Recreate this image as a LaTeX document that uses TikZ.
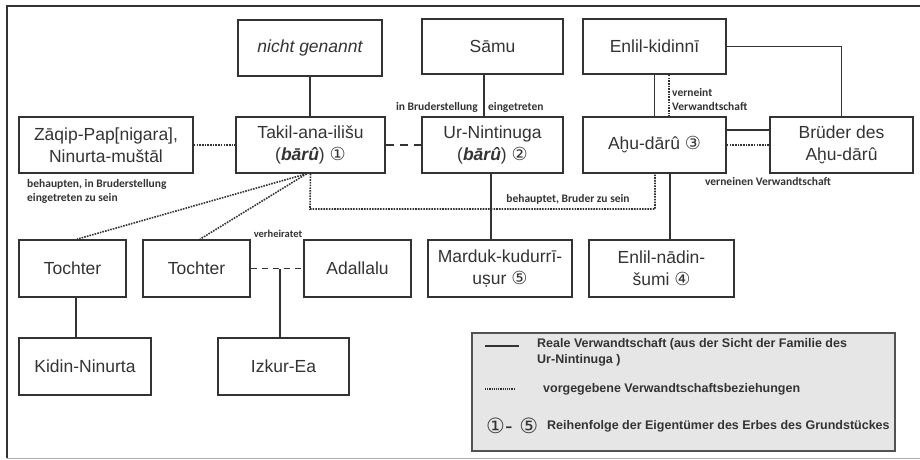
\documentclass[tikz,border=0pt]{standalone}
\usepackage{fontspec}
\setmainfont{Liberation Sans}
\newfontfamily\lblfont{Carlito}
\newfontfamily\dvfont{DejaVu Sans}
\usetikzlibrary{calc}
\definecolor{ink}{HTML}{333333}
\definecolor{legfill}{HTML}{E6E6E6}
\newcommand{\cnum}[1]{{\dvfont\fontsize{18}{18}\selectfont #1}}
\tikzset{
  box/.style={draw=ink, line width=1.6pt, text=ink, align=center, inner sep=2pt,
    font=\fontsize{17.5}{22}\selectfont},
  conn/.style={draw=ink, line width=1.6pt},
  dotline/.style={draw=ink, line width=1.6pt, dash pattern=on 1.6pt off 1.1pt},
  dashline/.style={draw=ink, line width=1.6pt, dash pattern=on 8pt off 6pt},
  dashshort/.style={draw=ink, line width=1.6pt, dash pattern=on 6pt off 5pt},
  lbl/.style={text=ink, inner sep=0pt, font=\lblfont\bfseries\fontsize{11.5}{14}\selectfont},
  legtxt/.style={text=ink, inner sep=0pt, font=\bfseries\fontsize{12.5}{16}\selectfont, align=left},
}
\begin{document}
\begin{tikzpicture}[x=1pt, y=-1pt]
\useasboundingbox (0,0) rectangle (920,460);
% frame
\draw[ink, line width=1.6pt] (920,6) -- (7,6) -- (7,458);
\draw[ink!40, line width=0.8pt] (7,458) -- (920,458);

% top row
\node[box, minimum width=144pt, minimum height=56pt] (ng) at (310,48) {\itshape nicht genannt};
\node[box, minimum width=141pt, minimum height=55pt] (samu) at (492.5,46.5) {Sāmu};
\node[box, minimum width=143pt, minimum height=55pt] (ek) at (654.5,46.5) {Enlil-kidinnī};

% second row
\node[box, minimum width=174pt, minimum height=56pt] (zaq) at (106,145) {Zāqip-Pap[nigara],\\Ninurta-muštāl};
\node[box, minimum width=149pt, minimum height=56pt] (takil) at (310.5,145) {Takil-ana-ilišu\\(\textbf{\textit{bārû}}) \cnum{①}};
\node[box, minimum width=141pt, minimum height=56pt] (urn) at (492.5,145) {Ur-Nintinuga\\(\textbf{\textit{bārû}}) \cnum{②}};
\node[box, minimum width=143pt, minimum height=56pt] (ahu) at (654.5,145) {Aḫu-dārû \cnum{③}};
\node[box, minimum width=143pt, minimum height=56pt] (bru) at (841.5,145) {Brüder des\\Aḫu-dārû};

% third row
\node[box, minimum width=107pt, minimum height=57pt] (t1) at (72.5,268.5) {Tochter};
\node[box, minimum width=107pt, minimum height=57pt] (t2) at (196.5,268.5) {Tochter};
\node[box, minimum width=107pt, minimum height=57pt] (ada) at (357.5,268.5) {Adallalu};
\node[box, minimum width=144pt, minimum height=57pt] (mar) at (500,268.5) {Marduk-kudurrī-\\uṣur \cnum{⑤}};
\node[box, minimum width=145pt, minimum height=57pt] (ens) at (661.5,268.5) {Enlil-nādin-\\šumi \cnum{④}};

% fourth row
\node[box, minimum width=132pt, minimum height=57pt] (kid) at (85,366.5) {Kidin-Ninurta};
\node[box, minimum width=131pt, minimum height=57pt] (izk) at (283.5,366.5) {Izkur-Ea};

% connectors
\draw[conn] (ng.south) -- (ng.south |- takil.north);
\draw[conn] ([xshift=-8.5pt]samu.south) -- ([xshift=-8.5pt]urn.north);
\draw[dashline] (takil.east) -- (urn.west);
\draw[dotline] (zaq.east) -- (takil.west);
\coordinate (b1) at (310,209);
\coordinate (b2) at (655,209);
\draw[dotline] (takil.south) -- (b1) -- (b2) -- (b2 |- ahu.south);
\draw[conn] (ek.south) -- (ahu.north);
\draw[dotline] ([xshift=14.5pt]ek.south) -- ([xshift=14.5pt]ahu.north);
\draw[conn] (ek.east) -| (bru.north);
\draw[conn] ([yshift=15pt]ahu.east) -- ([yshift=15pt]bru.west);
\draw[dotline] (ahu.east) -- (bru.west);
\draw[conn] ([xshift=-1.5pt]urn.south) -- ([xshift=-9pt]mar.north);
\draw[conn] ([xshift=15.5pt]ahu.south) -- ([xshift=8.5pt]ens.north);
\draw[dotline] ([xshift=-4pt]takil.south) -- ([xshift=4.5pt]t1.north);
\draw[dotline] ([xshift=-4pt]takil.south) -- ([xshift=3.5pt]t2.north);
\draw[conn] ([xshift=3.5pt]t1.south) -- ([xshift=-9pt]kid.north);
\draw[dashshort] (t2.east) -- (ada.west);
\coordinate (m) at (280,268.5);
\draw[conn] (m) -- (m |- izk.north);

% labels
\node[lbl, anchor=east] (l1) at (478,107) {in Bruderstellung};
\node[lbl, anchor=west] (l2) at (488,107) {eingetreten};
\node[lbl, anchor=north west, align=left] (l3) at (27,179) {behaupten, in Bruderstellung\\eingetreten zu sein};
\node[lbl] (l4) at (568,199) {behauptet, Bruder zu sein};
\node[lbl, anchor=west, align=left] (l5) at (672,100) {verneint\\Verwandtschaft};
\node[lbl] (l6) at (768,182) {verneinen Verwandtschaft};
\node[lbl, font=\lblfont\bfseries\fontsize{10.5}{12}\selectfont] (l7) at (278,234) {verheiratet};

% legend
\node[draw=ink!85, fill=legfill, line width=1.2pt, minimum width=423pt, minimum height=118pt, inner sep=0pt] (leg) at (683.5,392) {};
\coordinate (s1) at (485,346);
\coordinate (s2) at (519,346);
\draw[conn, line width=1.3pt] (s1) -- (s2);
\node[legtxt, anchor=north west] (lt1) at (537,338) {Reale Verwandtschaft (aus der Sicht der Familie des\\Ur-Nintinuga )};
\coordinate (d1) at (485,389);
\coordinate (d2) at (515,389);
\draw[dotline, line width=1.2pt, dash pattern=on 1.2pt off 1pt] (d1) -- (d2);
\node[legtxt, anchor=west] (lt2) at (543,389) {vorgegebene Verwandtschaftsbeziehungen};
\node[text=ink, anchor=west, inner sep=0pt, font=\dvfont\fontsize{21}{22}\selectfont] (lt3a) at (486,426) {①- ⑤};
\node[legtxt, anchor=west] (lt3) at (547,426) {Reihenfolge der Eigentümer des Erbes des Grundstückes};
\end{tikzpicture}
\end{document}
